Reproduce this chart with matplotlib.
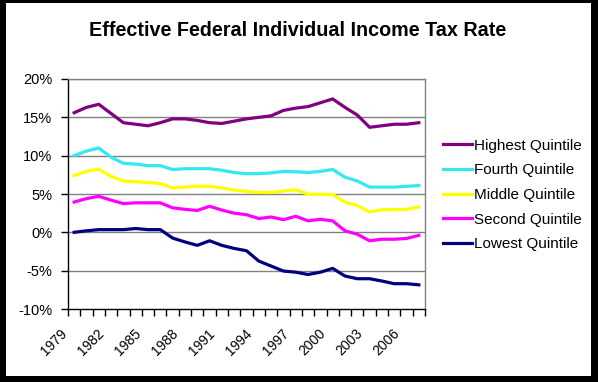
import numpy as np
import matplotlib
matplotlib.use("Agg")
import matplotlib.pyplot as plt
from matplotlib.patches import Rectangle
from matplotlib.ticker import FixedLocator, FuncFormatter
from matplotlib.transforms import ScaledTranslation

plt.rcParams["font.family"] = ["Liberation Sans", "DejaVu Sans"]

years = list(range(1979, 2008))

highest = [15.6, 16.3, 16.7, 15.5, 14.3, 14.1, 13.9, 14.3, 14.8, 14.8,
           14.6, 14.3, 14.2, 14.5, 14.8, 15.0, 15.2, 15.9, 16.2, 16.4,
           16.9, 17.4, 16.3, 15.3, 13.7, 13.9, 14.1, 14.1, 14.3]
fourth = [10.0, 10.6, 11.0, 9.8, 9.0, 8.9, 8.7, 8.7, 8.2, 8.3,
          8.3, 8.3, 8.1, 7.8, 7.65, 7.65, 7.75, 7.95, 7.9, 7.8,
          7.95, 8.2, 7.2, 6.7, 5.9, 5.9, 5.9, 6.0, 6.1]
middle = [7.4, 7.95, 8.25, 7.3, 6.7, 6.6, 6.5, 6.35, 5.8, 5.9,
          6.0, 6.0, 5.8, 5.5, 5.35, 5.2, 5.2, 5.4, 5.55, 5.0,
          4.95, 4.95, 3.95, 3.5, 2.65, 2.95, 2.95, 3.0, 3.3]
second = [3.95, 4.4, 4.7, 4.2, 3.75, 3.85, 3.85, 3.85, 3.2, 3.0,
          2.85, 3.4, 2.9, 2.5, 2.3, 1.8, 2.0, 1.65, 2.1, 1.5,
          1.7, 1.5, 0.2, -0.25, -1.1, -0.9, -0.9, -0.8, -0.4]
lowest = [0.0, 0.2, 0.35, 0.35, 0.35, 0.5, 0.35, 0.35, -0.75, -1.25,
          -1.7, -1.1, -1.7, -2.1, -2.4, -3.75, -4.4, -5.05, -5.2, -5.5,
          -5.2, -4.7, -5.7, -6.05, -6.05, -6.35, -6.7, -6.7, -6.85]

series = [
    ("Highest Quintile", highest, "#800080"),
    ("Fourth Quintile", fourth, "#33E8F2"),
    ("Middle Quintile", middle, "#FFFF00"),
    ("Second Quintile", second, "#FF00FF"),
    ("Lowest Quintile", lowest, "#000080"),
]

W, H = 598, 382
fig = plt.figure(figsize=(W / 100, H / 100), dpi=100, facecolor="black")
# white card inside the black frame
fig.patches.append(Rectangle((6 / W, 6 / H), (591 - 6) / W, (379 - 6) / H,
                             transform=fig.transFigure, facecolor="white",
                             edgecolor="none", zorder=-10))

ax = fig.add_axes([68 / W, 1 - 309 / H, (425 - 68) / W, (309 - 79) / H])
ax.set_zorder(1)
ax.patch.set_alpha(0)
x = np.arange(len(years))
for name, vals, col in series:
    ax.plot(x, vals, color=col, lw=2.3, label=name, solid_joinstyle="round")

ax.set_xlim(-0.5, len(years) - 0.5)
ax.set_ylim(-10, 20)
ax.set_yticks(np.arange(-10, 21, 5))
ax.yaxis.set_major_formatter(FuncFormatter(lambda v, p: "%d%%" % v))
for v in range(-5, 21, 5):
    ax.axhline(v, color="#808080", lw=1, zorder=0)

# category boundary ticks, labels every third year
ax.xaxis.set_major_locator(FixedLocator(np.arange(0, len(years), 3)))
ax.set_xticklabels([str(y) for y in years[::3]], rotation=45, ha="right",
                   fontsize=10)
ax.tick_params(axis="x", which="major", length=0, pad=12.5)
ax.xaxis.set_minor_locator(FixedLocator(np.arange(-0.5, len(years), 1)))
ax.tick_params(axis="x", which="minor", length=5, width=1, color="black")
ax.tick_params(axis="y", length=5, width=1, labelsize=10.5, pad=6.5)
shift = ScaledTranslation(-4 / 100, 0, fig.dpi_scale_trans)
for lab in ax.get_xticklabels():
    lab.set_transform(lab.get_transform() + shift)

for s in ["left", "bottom"]:
    ax.spines[s].set_color("black")
    ax.spines[s].set_linewidth(1)
for s in ["right", "top"]:
    ax.spines[s].set_color("#808080")
    ax.spines[s].set_linewidth(1)

fig.text(298 / W, 1 - 31 / H, "Effective Federal Individual Income Tax Rate",
         ha="center", va="center", fontsize=14.2, fontweight="bold")

fig.legend(loc="center left", bbox_to_anchor=(435 / W, 1 - 195 / H),
           frameon=False, fontsize=11, handlelength=1.9, handletextpad=0.15,
           labelspacing=0.7, borderpad=0)

fig.savefig("out.png", dpi=100, facecolor="black")
